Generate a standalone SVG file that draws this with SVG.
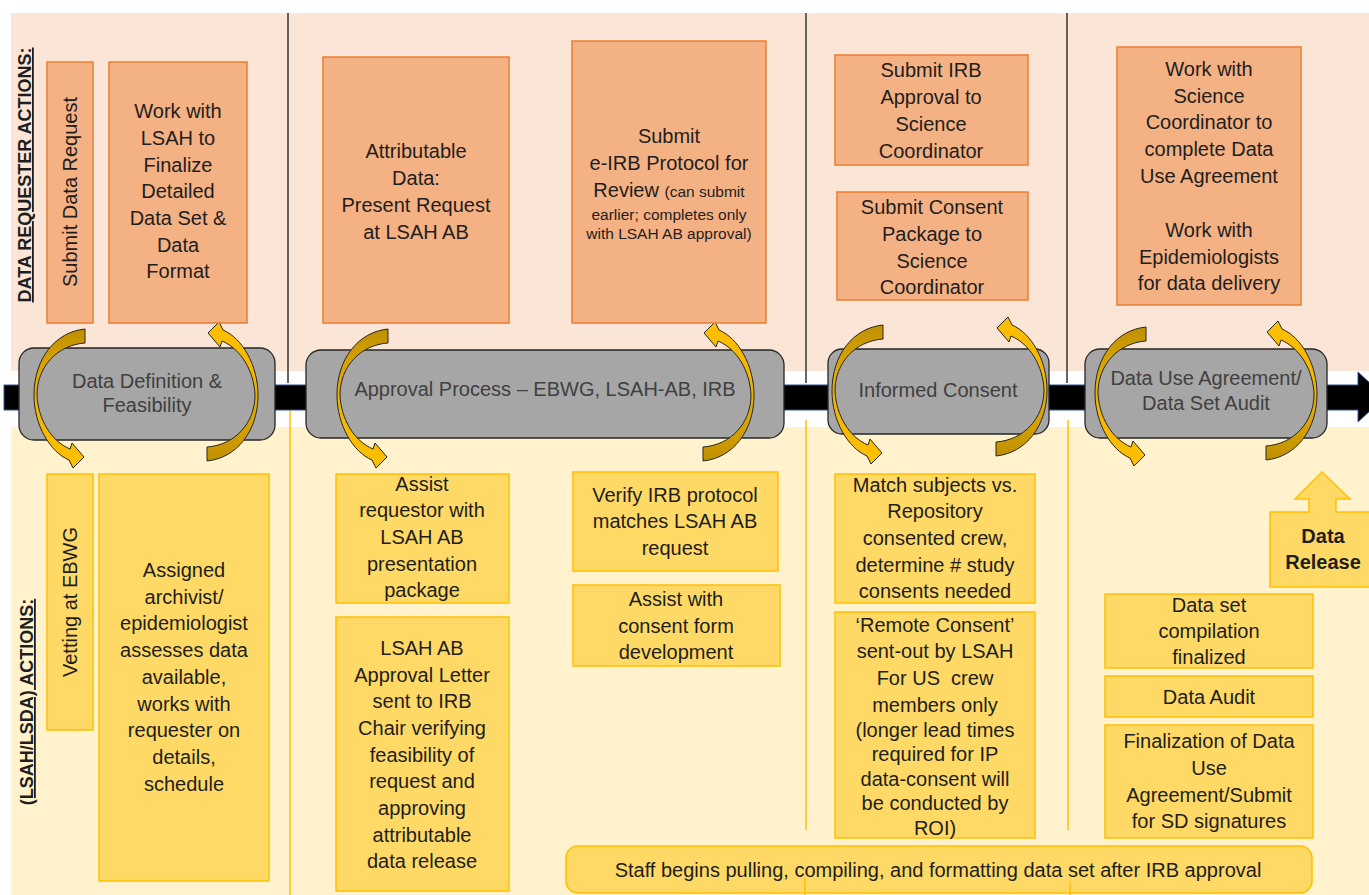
<svg xmlns="http://www.w3.org/2000/svg" width="1369" height="895" viewBox="0 0 1369 895">
<defs>
<style>
.t{font-family:"Liberation Sans",Arial,sans-serif;font-size:20px;fill:#1e1e1e;text-anchor:middle}
.gt{font-family:"Liberation Sans",Arial,sans-serif;font-size:20px;fill:#404040;text-anchor:middle}
.lab{font-family:"Liberation Sans",Arial,sans-serif;font-size:18px;font-weight:bold;fill:#1e1e1e;text-anchor:middle;text-decoration:underline}
.or{fill:#F4B183;stroke:#ED7D31;stroke-width:1.5}
.ye{fill:#FFD966;stroke:#FFC000;stroke-width:1.5}
.gr{fill:#A6A6A6;stroke:#262626;stroke-width:1.3}
.vd{stroke:#333333;stroke-width:1.5;fill:none}
.vy{stroke:#FFC000;stroke-width:1.5;fill:none}
</style>
<linearGradient id="gold" x1="0" y1="0" x2="0" y2="1">
<stop offset="0" stop-color="#BF9000"/>
<stop offset="0.5" stop-color="#F0B400"/>
<stop offset="1" stop-color="#FFC000"/>
</linearGradient>
<path id="arc" d="M -10,-66 C -40,-63 -61,-36 -61,0 C -61,30 -45,57 -26,65 L -22,73 L -11,62 L -23,48 L -25,54 C -44,46 -57,24 -58,0 C -58,-28 -38,-50 -10,-52 Z" fill="url(#gold)" stroke="#262626" stroke-width="1"/>
</defs>

<g id="background">
<rect x="11" y="13" width="1358" height="358" fill="#FBE5D6"/>
<rect x="11" y="427" width="1358" height="468" fill="#FFF2CC"/>
<line class="vd" x1="288" y1="13" x2="288" y2="383"/>
<line class="vd" x1="806" y1="13" x2="806" y2="383"/>
<line class="vd" x1="1067" y1="13" x2="1067" y2="383"/>
<line class="vy" x1="290" y1="410" x2="290" y2="895"/>
<line class="vy" x1="806" y1="420" x2="806" y2="830"/>
<line class="vy" x1="1068" y1="420" x2="1068" y2="830"/>
<text class="lab" transform="translate(31,175) rotate(-90)">DATA REQUESTER ACTIONS:</text>
<text class="lab" transform="translate(33,702) rotate(-90)">(LSAH/LSDA) ACTIONS:</text>
</g>

<g id="timeline">
<path d="M4,385 H1358 V372 L1385,397 L1358,422 V410 H4 Z" fill="#000000" stroke="#2F5597" stroke-width="1"/>
</g>

<g id="p-definition">
<rect class="gr" x="19" y="348" width="256" height="92" rx="15"/>
<text class="gt" x="147" y="388">Data Definition &amp;</text>
<text class="gt" x="147" y="412">Feasibility</text>
</g>
<g id="p-approval">
<rect class="gr" x="306" y="350" width="478" height="88" rx="15"/>
<text class="gt" x="545" y="396" font-size="18">Approval Process – EBWG, LSAH-AB, IRB</text>
</g>
<g id="p-consent">
<rect class="gr" x="828" y="349" width="221" height="85" rx="14"/>
<text class="gt" x="938" y="397">Informed Consent</text>
</g>
<g id="p-dua">
<rect class="gr" x="1085" y="349" width="242" height="89" rx="15"/>
<text class="gt" x="1206" y="385">Data Use Agreement/</text>
<text class="gt" x="1206" y="410">Data Set Audit</text>
</g>

<g id="connectors">
<use href="#arc" transform="translate(95,395)"/>
<use href="#arc" transform="translate(197,395) rotate(180)"/>
<use href="#arc" transform="translate(398,395)"/>
<use href="#arc" transform="translate(693,395) rotate(180)"/>
<use href="#arc" transform="translate(893,391)"/>
<use href="#arc" transform="translate(986,390) rotate(180)"/>
<use href="#arc" transform="translate(1156,393)"/>
<use href="#arc" transform="translate(1256,394) rotate(180)"/>
</g>

<g id="r-submit-request">
<rect class="or" x="47" y="62" width="46" height="261"/>
<text class="t" transform="translate(77,192) rotate(-90)">Submit Data Request</text>
</g>
<g id="r-finalize">
<rect class="or" x="109" y="62" width="138" height="261"/>
<text class="t"><tspan x="178" y="118">Work with</tspan><tspan x="178" y="145">LSAH to</tspan><tspan x="178" y="172">Finalize</tspan><tspan x="178" y="198">Detailed</tspan><tspan x="178" y="225">Data Set &amp;</tspan><tspan x="178" y="252">Data</tspan><tspan x="178" y="278">Format</tspan></text>
</g>
<g id="r-present">
<rect class="or" x="323" y="57" width="186" height="266"/>
<text class="t"><tspan x="416" y="158">Attributable</tspan><tspan x="416" y="185">Data:</tspan><tspan x="416" y="212">Present Request</tspan><tspan x="416" y="239">at LSAH AB</tspan></text>
</g>
<g id="r-eirb">
<rect class="or" x="572" y="41" width="194" height="282"/>
<text class="t"><tspan x="669" y="143">Submit</tspan><tspan x="669" y="170">e-IRB Protocol for</tspan><tspan x="669" y="197">Review <tspan font-size="15.5">(can submit</tspan></tspan><tspan x="669" y="220" font-size="15.5">earlier; completes only</tspan><tspan x="669" y="239" font-size="15.5">with LSAH AB approval)</tspan></text>
</g>
<g id="r-irb-approval">
<rect class="or" x="835" y="55" width="193" height="110"/>
<text class="t"><tspan x="931" y="77">Submit IRB</tspan><tspan x="931" y="104">Approval to</tspan><tspan x="931" y="131">Science</tspan><tspan x="931" y="158">Coordinator</tspan></text>
</g>
<g id="r-consent-package">
<rect class="or" x="837" y="192" width="191" height="108"/>
<text class="t"><tspan x="932" y="214">Submit Consent</tspan><tspan x="932" y="241">Package to</tspan><tspan x="932" y="268">Science</tspan><tspan x="932" y="294">Coordinator</tspan></text>
</g>
<g id="r-dua">
<rect class="or" x="1117" y="47" width="184" height="258"/>
<text class="t"><tspan x="1209" y="76">Work with</tspan><tspan x="1209" y="103">Science</tspan><tspan x="1209" y="129">Coordinator to</tspan><tspan x="1209" y="156">complete Data</tspan><tspan x="1209" y="183">Use Agreement</tspan><tspan x="1209" y="237">Work with</tspan><tspan x="1209" y="264">Epidemiologists</tspan><tspan x="1209" y="290">for data delivery</tspan></text>
</g>

<g id="l-vetting">
<rect class="ye" x="47" y="474" width="46" height="256"/>
<text class="t" transform="translate(77,602) rotate(-90)">Vetting at EBWG</text>
</g>
<g id="l-assigned">
<rect class="ye" x="99" y="474" width="170" height="407"/>
<text class="t"><tspan x="184" y="577">Assigned</tspan><tspan x="184" y="604">archivist/</tspan><tspan x="184" y="630">epidemiologist</tspan><tspan x="184" y="657">assesses data</tspan><tspan x="184" y="684">available,</tspan><tspan x="184" y="711">works with</tspan><tspan x="184" y="737">requester on</tspan><tspan x="184" y="764">details,</tspan><tspan x="184" y="791">schedule</tspan></text>
</g>
<g id="l-assist-requestor">
<rect class="ye" x="336" y="474" width="173" height="129"/>
<text class="t"><tspan x="422" y="491">Assist</tspan><tspan x="422" y="517">requestor with</tspan><tspan x="422" y="544">LSAH AB</tspan><tspan x="422" y="571">presentation</tspan><tspan x="422" y="597">package</tspan></text>
</g>
<g id="l-approval-letter">
<rect class="ye" x="336" y="617" width="173" height="274"/>
<text class="t"><tspan x="422" y="655">LSAH AB</tspan><tspan x="422" y="682">Approval Letter</tspan><tspan x="422" y="708">sent to IRB</tspan><tspan x="422" y="735">Chair verifying</tspan><tspan x="422" y="762">feasibility of</tspan><tspan x="422" y="788">request and</tspan><tspan x="422" y="815">approving</tspan><tspan x="422" y="842">attributable</tspan><tspan x="422" y="868">data release</tspan></text>
</g>
<g id="l-verify">
<rect class="ye" x="573" y="472" width="205" height="99"/>
<text class="t"><tspan x="675" y="502">Verify IRB protocol</tspan><tspan x="675" y="528">matches LSAH AB</tspan><tspan x="675" y="555">request</tspan></text>
</g>
<g id="l-consent-form">
<rect class="ye" x="573" y="585" width="207" height="81"/>
<text class="t"><tspan x="676" y="606">Assist with</tspan><tspan x="676" y="633">consent form</tspan><tspan x="676" y="659">development</tspan></text>
</g>
<g id="l-match">
<rect class="ye" x="835" y="474" width="200" height="129"/>
<text class="t"><tspan x="935" y="492">Match subjects vs.</tspan><tspan x="935" y="518">Repository</tspan><tspan x="935" y="545">consented crew,</tspan><tspan x="935" y="572">determine # study</tspan><tspan x="935" y="598">consents needed</tspan></text>
</g>
<g id="l-remote">
<rect class="ye" x="835" y="612" width="200" height="226"/>
<text class="t"><tspan x="935" y="632">‘Remote Consent’</tspan><tspan x="935" y="658">sent-out by LSAH</tspan><tspan x="935" y="685">For US&#160; crew</tspan><tspan x="935" y="712">members only</tspan><tspan x="935" y="737">(longer lead times</tspan><tspan x="935" y="761">required for IP</tspan><tspan x="935" y="786">data-consent will</tspan><tspan x="935" y="810">be conducted by</tspan><tspan x="935" y="835">ROI)</tspan></text>
</g>
<g id="l-release">
<path class="ye" d="M1270,512 H1309 V499 H1295 L1322,472 L1350,499 H1336 V512 H1375 V587 H1270 Z"/>
<text class="t" font-weight="bold" font-size="19"><tspan x="1323" y="543">Data</tspan><tspan x="1323" y="569">Release</tspan></text>
</g>
<g id="l-compilation">
<rect class="ye" x="1105" y="594" width="208" height="74"/>
<text class="t"><tspan x="1209" y="612">Data set</tspan><tspan x="1209" y="638">compilation</tspan><tspan x="1209" y="664">finalized</tspan></text>
</g>
<g id="l-audit">
<rect class="ye" x="1105" y="676" width="208" height="41"/>
<text class="t" x="1209" y="704">Data Audit</text>
</g>
<g id="l-finalization">
<rect class="ye" x="1105" y="725" width="208" height="113"/>
<text class="t"><tspan x="1209" y="748">Finalization of Data</tspan><tspan x="1209" y="775">Use</tspan><tspan x="1209" y="802">Agreement/Submit</tspan><tspan x="1209" y="828">for SD signatures</tspan></text>
</g>
<g id="l-staff">
<rect class="ye" x="566" y="846" width="746" height="47" rx="12"/>
<text class="t" x="938" y="877" font-size="20.5">Staff begins pulling, compiling, and formatting data set after IRB approval</text>
<line class="vy" x1="805" y1="878" x2="805" y2="895"/>
<line class="vy" x1="1070" y1="881" x2="1070" y2="895"/>
</g>
</svg>
